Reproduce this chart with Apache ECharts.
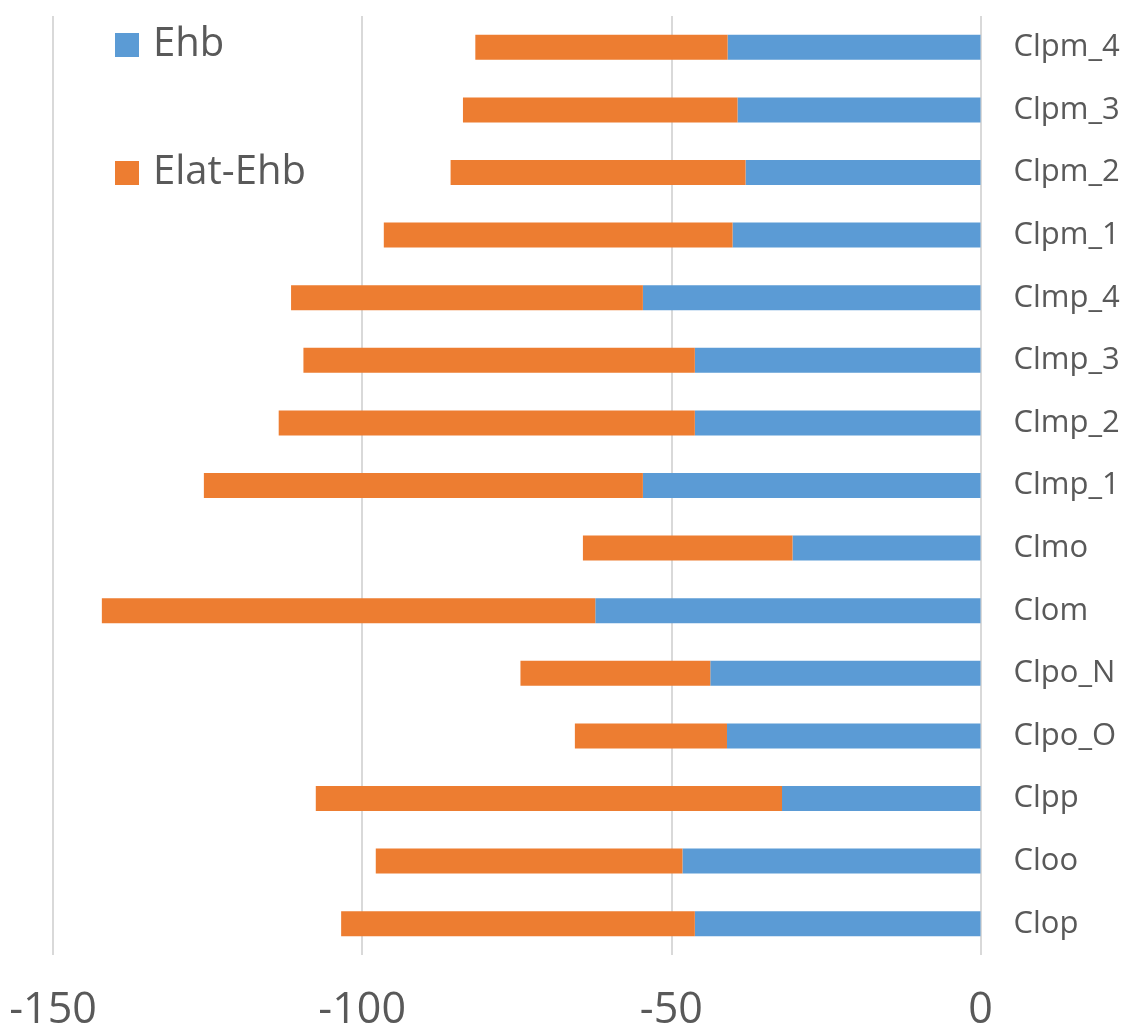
<!DOCTYPE html>
<html>
<head>
<meta charset="utf-8">
<script src="https://cdn.jsdelivr.net/npm/echarts@6/dist/echarts.min.js"></script>
<style>html,body{margin:0;padding:0;background:#fff;}#c{width:1134px;height:1035px;}</style>
</head>
<body>
<div id="c"></div>
<script>
const categories = ["Clop","Cloo","Clpp","Clpo_O","Clpo_N","Clom","Clmo","Clmp_1","Clmp_2","Clmp_3","Clmp_4","Clpm_1","Clpm_2","Clpm_3","Clpm_4"];
const ehb = [-46.2,-48.2,-32.1,-41.0,-43.7,-62.3,-30.4,-54.6,-46.2,-46.2,-54.6,-40.1,-38.0,-39.3,-40.9];
const elatMinusEhb = [-57.2,-49.6,-75.4,-24.6,-30.7,-79.8,-33.9,-71.0,-67.3,-63.3,-56.9,-56.4,-47.7,-44.4,-40.8];
const xTicks = [-150,-100,-50,0];

const FONT = '"Open Sans", "Noto Sans", sans-serif';
const chart = echarts.init(document.getElementById('c'));
chart.setOption({
  animation: false,
  backgroundColor: '#ffffff',
  textStyle: {fontFamily: FONT},
  legend: {
    orient: 'vertical',
    left: 110,
    top: 20,
    itemWidth: 24,
    itemHeight: 24,
    itemGap: 88,
    icon: 'rect',
    textStyle: {fontSize: 40, color: '#595959', fontFamily: FONT, padding: [0, 0, 0, 9]},
    data: ['Ehb', 'Elat-Ehb']
  },
  grid: {left: 53, right: 153.5, top: 16, bottom: 80, containLabel: false},
  xAxis: {
    type: 'value',
    min: xTicks[0],
    max: xTicks[xTicks.length - 1],
    interval: 50,
    axisLine: {show: false},
    axisTick: {show: false},
    axisLabel: {fontSize: 43, color: '#595959', margin: 34, fontFamily: FONT},
    splitLine: {show: true, lineStyle: {color: '#D9D9D9', width: 2}}
  },
  yAxis: {
    type: 'category',
    position: 'right',
    data: categories,
    axisLine: {show: false},
    axisTick: {show: false},
    axisLabel: {fontSize: 31, color: '#595959', margin: 33, fontFamily: FONT}
  },
  series: [
    {name: 'Ehb', type: 'bar', stack: 'total', data: ehb, barWidth: 25, itemStyle: {color: '#5B9BD5'}},
    {name: 'Elat-Ehb', type: 'bar', stack: 'total', data: elatMinusEhb, barWidth: 25, itemStyle: {color: '#ED7D31'}}
  ]
});
</script>
</body>
</html>
